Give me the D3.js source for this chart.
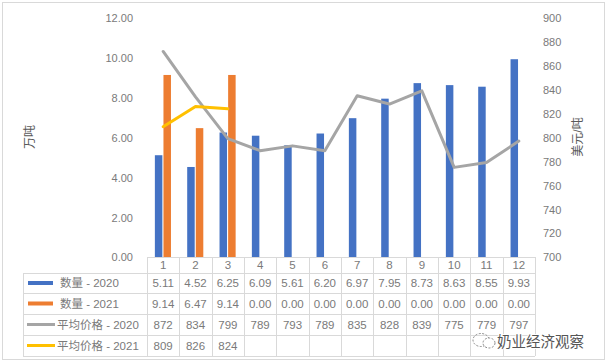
<!DOCTYPE html>
<html><head><meta charset="utf-8">
<script src="https://cdn.jsdelivr.net/npm/d3@7"></script>
<style>
html,body{margin:0;padding:0;background:#fff;}
svg text{font-family:"Liberation Sans","Noto Sans CJK SC",Arial,sans-serif;}
</style></head>
<body><svg id="c" width="607" height="364"></svg>
<script>
const months = ["1","2","3","4","5","6","7","8","9","10","11","12"];
const qty2020 = [5.11,4.52,6.25,6.09,5.61,6.20,6.97,7.95,8.73,8.63,8.55,9.93];
const qty2021 = [9.14,6.47,9.14,0,0,0,0,0,0,0,0,0];
const price2020 = [872,834,799,789,793,789,835,828,839,775,779,797];
const price2021 = [809,826,824];
const leftTicks = [0,2,4,6,8,10,12];
const rightTicks = [700,720,740,760,780,800,820,840,860,880,900];
const seriesNames = ["数量 - 2020","数量 - 2021","平均价格 - 2020","平均价格 - 2021"];
const colors = ["#4472C4","#ED7D31","#A5A5A5","#FFC000"];

const svg = d3.select("#c");
const L = 147, R = 535, T = 18, B = 257;
const txt = "#7a7a7a", grid = "#d9d9d9";

svg.append("rect").attr("x",2.5).attr("y",2.5).attr("width",602).attr("height",357)
  .attr("fill","#fff").attr("stroke","#d9d9d9");

const x = d3.scaleBand().domain(months).range([L,R]);
const yL = d3.scaleLinear().domain([0,12]).range([B,T]);
const yR = d3.scaleLinear().domain([700,900]).range([B,T]);

const ax = svg.append("g").attr("transform",`translate(${L-14},0)`)
  .call(d3.axisLeft(yL).tickValues(leftTicks).tickFormat(d3.format(".2f")).tickSize(0));
ax.select(".domain").remove();
ax.selectAll("text").attr("fill",txt).attr("font-size",11).attr("dy","0.35em").attr("x",0);

const ar = svg.append("g").attr("transform",`translate(543,0)`)
  .call(d3.axisRight(yR).tickValues(rightTicks).tickSize(0));
ar.select(".domain").remove();
ar.selectAll("text").attr("fill",txt).attr("font-size",11).attr("dy","0.35em").attr("x",0);

svg.append("text").attr("transform","translate(34,137) rotate(-90)").attr("text-anchor","middle")
  .attr("fill","#595959").attr("font-size",12).text("万吨");
svg.append("text").attr("transform","translate(582,137) rotate(-90)").attr("text-anchor","middle")
  .attr("fill","#595959").attr("font-size",12).text("美元/吨");

const bw = 7.5;
const bars = svg.append("g");
months.forEach((m,i)=>{
  const cx = x(m)+x.bandwidth()/2;
  bars.append("rect").attr("x",cx-bw-0.8).attr("width",bw)
    .attr("y",yL(qty2020[i])).attr("height",B-yL(qty2020[i])).attr("fill",colors[0]);
  if(qty2021[i]>0) bars.append("rect").attr("x",cx+0.3).attr("width",bw)
    .attr("y",yL(qty2021[i])).attr("height",B-yL(qty2021[i])).attr("fill",colors[1]);
});

const line = d3.line().x((d,i)=>x(months[i])+x.bandwidth()/2).y(d=>yR(d));
svg.append("path").datum(price2020).attr("d",line).attr("fill","none")
  .attr("stroke",colors[2]).attr("stroke-width",3).attr("stroke-linejoin","round").attr("stroke-linecap","round");
svg.append("path").datum(price2021).attr("d",line).attr("fill","none")
  .attr("stroke",colors[3]).attr("stroke-width",3).attr("stroke-linejoin","round").attr("stroke-linecap","round");

const rowY = [257,273,293,314,335,356];
const tbl = svg.append("g");
const LL = 23;
tbl.append("line").attr("x1",L).attr("x2",R).attr("y1",rowY[0]+0.5).attr("y2",rowY[0]+0.5).attr("stroke",grid);
for(let k=1;k<rowY.length;k++){
  tbl.append("line").attr("x1",LL).attr("x2",R).attr("y1",rowY[k]+0.5).attr("y2",rowY[k]+0.5).attr("stroke",grid);
}
tbl.append("line").attr("x1",LL+0.5).attr("x2",LL+0.5).attr("y1",rowY[1]).attr("y2",rowY[5]).attr("stroke",grid);
months.forEach(m=>{
  const xx = Math.round(x(m))+0.5;
  tbl.append("line").attr("x1",xx).attr("x2",xx).attr("y1",rowY[0]).attr("y2",rowY[5]).attr("stroke",grid);
});
tbl.append("line").attr("x1",R+0.5).attr("x2",R+0.5).attr("y1",rowY[0]).attr("y2",rowY[5]).attr("stroke",grid);

const rows = [
  months,
  qty2020.map(d=>d.toFixed(2)),
  qty2021.map(d=>d.toFixed(2)),
  price2020.map(String),
  price2021.map(String)
];
rows.forEach((r,k)=>{
  const cy = (rowY[k]+rowY[k+1])/2;
  r.forEach((v,i)=>{
    tbl.append("text").attr("x",x(months[i])+x.bandwidth()/2).attr("y",cy).attr("dy","0.36em")
      .attr("text-anchor","middle").attr("fill",txt).attr("font-size",11.5).text(v);
  });
});
seriesNames.forEach((n,k)=>{
  const cy = (rowY[k+1]+rowY[k+2])/2;
  if(k<2){
    tbl.append("rect").attr("x",28).attr("y",cy-2).attr("width",25).attr("height",4).attr("fill",colors[k]);
    tbl.append("text").attr("x",60).attr("y",cy).attr("dy","0.36em").attr("fill",txt).attr("font-size",11.5).text(n);
  } else {
    tbl.append("line").attr("x1",27).attr("x2",55).attr("y1",cy).attr("y2",cy).attr("stroke",colors[k]).attr("stroke-width",3);
    tbl.append("text").attr("x",57).attr("y",cy).attr("dy","0.36em").attr("fill",txt).attr("font-size",11.5).text(n);
  }
});

const wm = svg.append("g");
wm.append("ellipse").attr("cx",481).attr("cy",340).attr("rx",8).attr("ry",6.5).attr("fill","none")
  .attr("stroke","#888").attr("stroke-dasharray","2,1.5").attr("stroke-width",1);
wm.append("ellipse").attr("cx",489).attr("cy",343).attr("rx",6).attr("ry",5).attr("fill","#fff")
  .attr("stroke","#888").attr("stroke-dasharray","2,1.5").attr("stroke-width",1);
wm.append("text").attr("x",497).attr("y",347).attr("font-size",14.5)
  .attr("fill","#555").attr("stroke","#fff").attr("stroke-width",2).attr("paint-order","stroke")
  .style("font-family","'Noto Sans CJK SC',sans-serif").text("奶业经济观察");
</script></body></html>
